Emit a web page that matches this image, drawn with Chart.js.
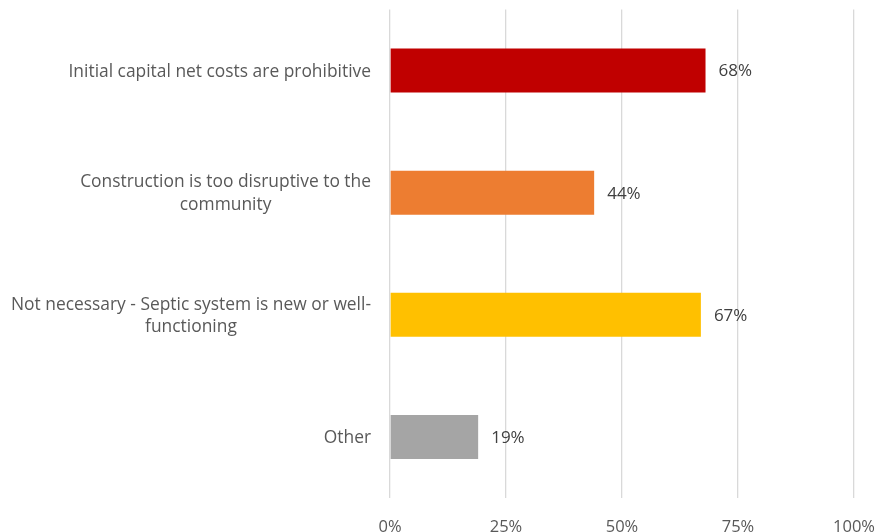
<!DOCTYPE html>
<html>
<head>
<meta charset="utf-8">
<script src="https://cdn.jsdelivr.net/npm/chart.js@4"></script>
<style>
  html,body{margin:0;padding:0;background:#fff;}
  #wrap{width:878px;height:532px;position:relative;}
</style>
</head>
<body>
<div id="wrap"><canvas id="reasons"></canvas></div>
<script>
const categories=[
    ["Initial capital net costs are prohibitive"],
    ["Construction is too disruptive to the","community"],
    ["Not necessary - Septic system is new or well-","functioning"],
    ["Other"]
]
const values=[68,44,67,19]
const barColors=["#C00000","#ED7D31","#FFC000","#A5A5A5"]
const tickValues=[0,25,50,75,100]

const FONT="'Open Sans', sans-serif"

// category labels: block right aligned to the axis, lines centred inside the block
const catLabels={
    id:"catLabels",
    afterDraw(chart){
        const {ctx,chartArea,scales}=chart
        ctx.save()
        ctx.font="17.4px "+FONT
        ctx.fillStyle="#595959"
        ctx.textAlign="center"
        ctx.textBaseline="middle"
        const lh=22.5
        categories.forEach((lines,i)=>{
            const y=scales.y.getPixelForValue(i)+1
            const w=Math.max(...lines.map(l=>ctx.measureText(l).width))
            const cx=chartArea.left-19-w/2
            const y0=y-(lines.length-1)*lh/2
            lines.forEach((l,j)=>ctx.fillText(l,cx,y0+j*lh))
        })
        ctx.restore()
    }
}

// value labels at the end of each bar
const valueLabels={
    id:"valueLabels",
    afterDatasetsDraw(chart){
        const {ctx}=chart
        const meta=chart.getDatasetMeta(0)
        ctx.save()
        ctx.font="17px "+FONT
        ctx.fillStyle="#404040"
        ctx.textAlign="left"
        ctx.textBaseline="middle"
        meta.data.forEach((bar,i)=>{
            ctx.fillText(values[i]+"%",bar.x+13,bar.y+1)
        })
        ctx.restore()
    }
}

new Chart(document.getElementById("reasons"),{
    type:"bar",
    data:{
        labels:categories,
        datasets:[{
            data:values,
            backgroundColor:barColors,
            barPercentage:0.6,
            categoryPercentage:0.6,
        }]
    },
    options:{
        indexAxis:"y",
        responsive:true,
        maintainAspectRatio:false,
        animation:false,
        layout:{padding:{top:9.5,right:24,left:0,bottom:0}},
        plugins:{
            legend:{display:false},
            tooltip:{enabled:false},
        },
        scales:{
            x:{
                min:0,
                max:100,
                afterBuildTicks(s){s.ticks=tickValues.map(v=>({value:v}))},
                afterFit(s){s.height=34;s.paddingLeft=0;s.paddingRight=0},
                border:{display:false},
                grid:{color:"#d9d9d9",lineWidth:1.3,drawTicks:false},
                ticks:{
                    padding:19,
                    color:"#595959",
                    font:{family:FONT,size:16.5},
                    callback:v=>v+"%",
                },
            },
            y:{
                afterFit(s){s.width=390},
                border:{display:false},
                grid:{display:false},
                ticks:{display:false},
            },
        },
    },
    plugins:[catLabels,valueLabels],
})
</script>
</body>
</html>
